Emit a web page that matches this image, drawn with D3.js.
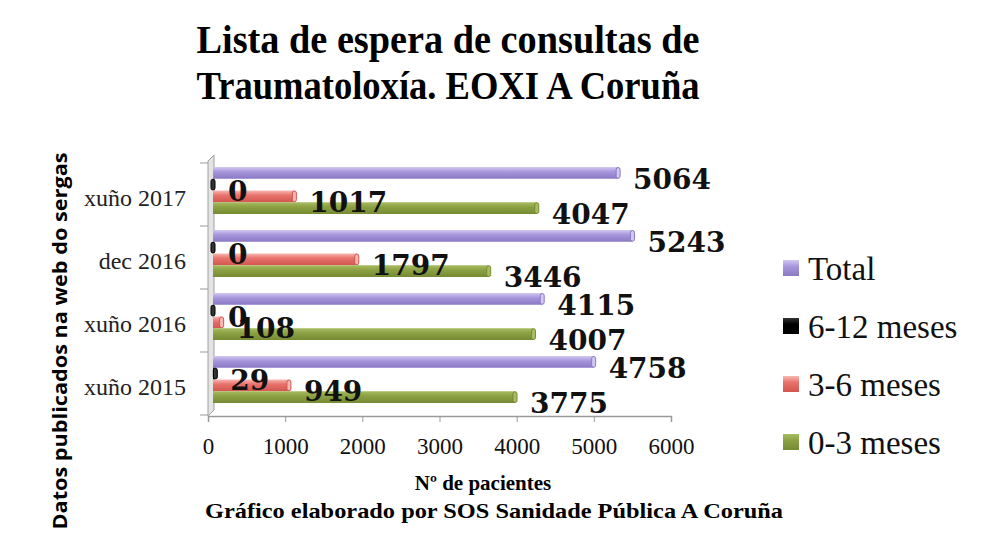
<!DOCTYPE html>
<html lang="gl">
<head>
<meta charset="UTF-8">
<title>Lista de espera Traumatoloxía</title>
<style>
  body { margin: 0; background: #fff; }
</style>
</head>
<body>
<div id="viz-wrapper"></div>
<script src="https://cdn.jsdelivr.net/npm/d3@7/dist/d3.min.js"></script>
<script>
// data
var categories = ["xuño 2017", "dec 2016", "xuño 2016", "xuño 2015"];
var seriesNames = ["Total", "6-12 meses", "3-6 meses", "0-3 meses"];
var total   = [5064, 5243, 4115, 4758];
var m6_12   = [0, 0, 0, 29];
var m3_6    = [1017, 1797, 108, 949];
var m0_3    = [4047, 3446, 4007, 3775];
var xTicks  = [0, 1000, 2000, 3000, 4000, 5000, 6000];

var seriesValues = [total, m6_12, m3_6, m0_3];
var colors = {
  "Total":      ["#d2c8f0", "#a897dc", "#8a78c4"],
  "6-12 meses": ["#333", "#000", "#000"],
  "3-6 meses":  ["#f8b8b3", "#e8726c", "#d2564f"],
  "0-3 meses":  ["#a8bd62", "#8ca143", "#768a33"]
};

var width = 992, height = 558;

var svg = d3.select("#viz-wrapper").append("svg")
  .attr("width", width).attr("height", height);

var defs = svg.append("defs");
seriesNames.forEach(function(s, i) {
  var g = defs.append("linearGradient").attr("id", "grad" + i)
    .attr("x1", 0).attr("y1", 0).attr("x2", 0).attr("y2", 1);
  g.append("stop").attr("offset", "0%").attr("stop-color", colors[s][0]);
  g.append("stop").attr("offset", "40%").attr("stop-color", colors[s][1]);
  g.append("stop").attr("offset", "100%").attr("stop-color", colors[s][2]);
});

// axis scale (front floor) and bar scale (plane where the 3d bars sit)
var x = d3.scaleLinear().domain([0, 6000]).range([208, 671]);
var xBar = d3.scaleLinear().domain([0, 6000]).range([213, 693]);
var y = d3.scaleBand().domain(categories).range([163, 415]).padding(0);
var yInner = d3.scaleBand().domain(seriesNames).range([4, 51]).padding(0);

// title
var title = ["Lista de espera de consultas de", "Traumatoloxía. EOXI A Coruña"];
svg.selectAll(".title").data(title).enter().append("text")
  .attr("class", "title")
  .attr("x", 448).attr("y", function(d, i) { return 53 + i * 46; })
  .attr("text-anchor", "middle")
  .attr("textLength", 503).attr("lengthAdjust", "spacingAndGlyphs")
  .style("font-family", "'Liberation Serif', serif")
  .style("font-weight", "bold").style("font-size", "40px")
  .text(function(d) { return d; });

// 3d left wall
svg.append("polygon")
  .attr("points", "208,161 214,155 214,410 208,416")
  .attr("fill", "#e4e4e4").attr("stroke", "#a0a0a0").attr("stroke-width", 1);

// wall ticks at band edges
var edges = categories.map(function(c) { return y(c); }).concat([y.range()[1]]);
svg.selectAll(".ytick").data(edges).enter().append("line")
  .attr("x1", 200).attr("x2", 208)
  .attr("y1", function(d) { return d; }).attr("y2", function(d) { return d; })
  .attr("stroke", "#999");

// x axis
var xAxis = d3.axisBottom(x).tickValues(xTicks).tickSize(6).tickFormat(d3.format("d"));
var gx = svg.append("g").attr("transform", "translate(0,416)").call(xAxis);
gx.select(".domain").attr("stroke", "#9a9a9a").attr("stroke-width", 1.5);
gx.selectAll(".tick line").attr("stroke", "#9a9a9a");
gx.selectAll(".tick text")
  .attr("y", 22)
  .style("font-family", "'Liberation Serif', serif")
  .style("font-size", "23px").attr("fill", "#111");

// category labels
svg.selectAll(".cat").data(categories).enter().append("text")
  .attr("class", "cat")
  .attr("x", 186)
  .attr("y", function(d) { return y(d) + y.bandwidth() / 2 + 11; })
  .attr("text-anchor", "end")
  .style("font-family", "'Liberation Serif', serif")
  .style("font-size", "24px").attr("fill", "#222")
  .text(function(d) { return d; });

// bars
var bars = [];
seriesNames.forEach(function(s, si) {
  categories.forEach(function(c, ci) {
    bars.push({ series: s, si: si, cat: c, value: seriesValues[si][ci] });
  });
});

var barG = svg.append("g");
var bg = barG.selectAll("g.bar").data(bars).enter().append("g").attr("class", "bar");

bg.append("rect")
  .attr("x", xBar(0))
  .attr("y", function(d) { return y(d.cat) + yInner(d.series); })
  .attr("width", function(d) { return xBar(d.value) - xBar(0); })
  .attr("height", yInner.bandwidth())
  .attr("fill", function(d) { return "url(#grad" + d.si + ")"; });

// end caps of the 3d bars
bg.append("rect")
  .attr("x", function(d) { return xBar(d.value) - 2; })
  .attr("y", function(d) { return y(d.cat) + yInner(d.series) + 0.5; })
  .attr("width", 4)
  .attr("height", yInner.bandwidth() - 1)
  .attr("rx", 2)
  .attr("fill", function(d) { return colors[d.series][0]; })
  .attr("stroke", function(d) { return colors[d.series][2]; })
  .attr("stroke-width", 1);

// value labels, on top of all bars
svg.append("g").selectAll("text").data(bars).enter().append("text")
  .attr("x", function(d) { return xBar(d.value) + 15; })
  .attr("y", function(d) { return y(d.cat) + yInner(d.series) + yInner.bandwidth() / 2 + 16; })
  .style("font-family", "'DejaVu Serif', serif")
  .style("font-weight", "bold").style("font-size", "28px").attr("fill", "#111")
  .text(function(d) { return d.value; });

// legend
var legend = svg.selectAll(".legend").data(seriesNames).enter().append("g")
  .attr("class", "legend")
  .attr("transform", function(d, i) { return "translate(783," + (268 + i * 58) + ")"; });
legend.append("rect")
  .attr("x", 0).attr("y", -8).attr("width", 16).attr("height", 16)
  .attr("fill", function(d, i) { return "url(#grad" + i + ")"; });
legend.append("text")
  .attr("x", 25).attr("y", 12)
  .style("font-family", "'Liberation Serif', serif")
  .style("font-size", "33px").attr("fill", "#111")
  .text(function(d) { return d; });

// axis titles
svg.append("text")
  .attr("x", 483).attr("y", 490).attr("text-anchor", "middle")
  .style("font-family", "'Liberation Serif', serif")
  .style("font-weight", "bold").style("font-size", "21px")
  .text("Nº de pacientes");

svg.append("text")
  .attr("x", 494).attr("y", 518).attr("text-anchor", "middle")
  .attr("textLength", 578).attr("lengthAdjust", "spacingAndGlyphs")
  .style("font-family", "'Liberation Serif', serif")
  .style("font-weight", "bold").style("font-size", "22px")
  .text("Gráfico elaborado por SOS Sanidade Pública A Coruña");

svg.append("text")
  .attr("transform", "translate(67,341) rotate(-90)")
  .attr("text-anchor", "middle")
  .attr("textLength", 377).attr("lengthAdjust", "spacingAndGlyphs")
  .style("font-family", "'Open Sans', sans-serif")
  .style("font-weight", "bold").style("font-size", "20px")
  .text("Datos publicados na web do sergas");
</script>
</body>
</html>
